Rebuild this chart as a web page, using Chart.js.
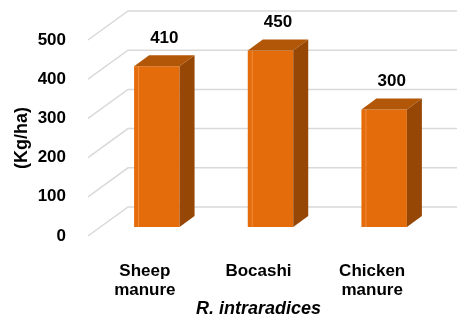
<!DOCTYPE html>
<html>
<head>
<meta charset="utf-8">
<script src="https://cdn.jsdelivr.net/npm/chart.js@4/dist/chart.umd.min.js"></script>
<style>
  html, body { margin: 0; padding: 0; background: #ffffff; }
  #wrap { width: 457px; height: 323px; position: relative; }
</style>
</head>
<body>
<div id="wrap"><canvas id="chart" width="457" height="323"></canvas></div>
<script>
// Yield per organic amendment
const categories = [['Sheep', 'manure'], ['Bocashi'], ['Chicken', 'manure']];
const yieldValues = [410, 450, 300];
const yTicks = [0, 100, 200, 300, 400, 500];
const yTitle = '(Kg/ha)';
const xTitle = 'R. intraradices';

// 3D look: floor/wall depth and bar placement inside that depth
const WALL_DX = 40, WALL_DY = 29;   // front plane -> back wall
const BAR_DX = 12, BAR_DY = 9;      // front plane -> bar front face
const SIDE_DX = 15, SIDE_DY = 11;   // bar front face -> bar back face

const FRONT = '#E46C0A';
const TOP = '#B25708';
const SIDE = '#964706';
const GRID = '#D9D9D9';
const FONT = 'Liberation Sans, Arial, sans-serif';

const box3d = {
  id: 'box3d',
  beforeDatasetsDraw(chart) {
    const { ctx, chartArea, scales } = chart;
    const y = scales.y;
    ctx.save();
    ctx.strokeStyle = GRID;
    ctx.lineWidth = 1.5;
    yTicks.forEach(v => {
      const py = y.getPixelForValue(v);
      ctx.beginPath();
      ctx.moveTo(chartArea.left, py);
      ctx.lineTo(chartArea.left + WALL_DX, py - WALL_DY);
      ctx.lineTo(chart.width, py - WALL_DY);
      ctx.stroke();
    });
    ctx.restore();
    // front faces are drawn by the library, pushed back into the depth
    ctx.save();
    ctx.translate(BAR_DX, -BAR_DY);
  },
  afterDatasetsDraw(chart) {
    const { ctx } = chart;
    ctx.restore();
    const meta = chart.getDatasetMeta(0);
    meta.data.forEach((bar, i) => {
      const p = bar.getProps(['x', 'y', 'base', 'width'], true);
      const l = p.x - p.width / 2 + BAR_DX;
      const r = p.x + p.width / 2 + BAR_DX;
      const t = p.y - BAR_DY;
      const b = p.base - BAR_DY;
      // top face
      ctx.fillStyle = TOP;
      ctx.beginPath();
      ctx.moveTo(l, t);
      ctx.lineTo(r, t);
      ctx.lineTo(r + SIDE_DX, t - SIDE_DY);
      ctx.lineTo(l + SIDE_DX, t - SIDE_DY);
      ctx.closePath();
      ctx.fill();
      // side face
      ctx.fillStyle = SIDE;
      ctx.beginPath();
      ctx.moveTo(r, t);
      ctx.lineTo(r + SIDE_DX, t - SIDE_DY);
      ctx.lineTo(r + SIDE_DX, b - SIDE_DY);
      ctx.lineTo(r, b);
      ctx.closePath();
      ctx.fill();
      // soft highlight along the front edge
      ctx.strokeStyle = 'rgba(255,200,150,0.35)';
      ctx.lineWidth = 1;
      ctx.beginPath();
      ctx.moveTo(l + 4.5, t);
      ctx.lineTo(l + 4.5, b);
      ctx.stroke();
      // value label
      ctx.fillStyle = '#000000';
      ctx.font = 'bold 17px ' + FONT;
      ctx.textAlign = 'center';
      ctx.textBaseline = 'middle';
      ctx.fillText(String(yieldValues[i]), (l + r) / 2 + SIDE_DX / 2, t - SIDE_DY - 17);
    });
  }
};

new Chart(document.getElementById('chart'), {
  type: 'bar',
  data: {
    labels: categories,
    datasets: [{
      data: yieldValues,
      backgroundColor: FRONT,
      borderWidth: 0,
      barPercentage: 0.4,
      categoryPercentage: 1.0
    }]
  },
  options: {
    responsive: false,
    animation: false,
    events: [],
    layout: { padding: { top: 40, right: 28, left: 0, bottom: 0 } },
    plugins: {
      legend: { display: false },
      tooltip: { enabled: false },
      title: { display: false }
    },
    scales: {
      x: {
        grid: { display: false, drawTicks: false },
        border: { display: false },
        ticks: {
          color: '#000000',
          padding: 26,
          maxRotation: 0,
          autoSkip: false,
          font: { family: FONT, size: 17, weight: 'bold', lineHeight: 1.12 }
        },
        title: {
          display: true,
          text: xTitle,
          color: '#000000',
          padding: { top: 0, bottom: 3 },
          font: { family: FONT, size: 18, weight: 'bold', style: 'italic', lineHeight: 1.2 }
        },
        afterFit(scale) { scale.height = 87; }
      },
      y: {
        min: 0,
        max: 500,
        grid: { display: false, drawTicks: false },
        border: { display: false },
        afterBuildTicks(scale) { scale.ticks = yTicks.map(v => ({ value: v })); },
        ticks: {
          color: '#000000',
          padding: 22,
          font: { family: FONT, size: 17, weight: 'bold' }
        },
        title: {
          display: true,
          text: yTitle,
          color: '#000000',
          padding: { top: 11, bottom: 0 },
          font: { family: FONT, size: 18, weight: 'bold', lineHeight: 1.2 }
        },
        afterFit(scale) { scale.width = 88; }
      }
    }
  },
  plugins: [box3d]
});
</script>
</body>
</html>
